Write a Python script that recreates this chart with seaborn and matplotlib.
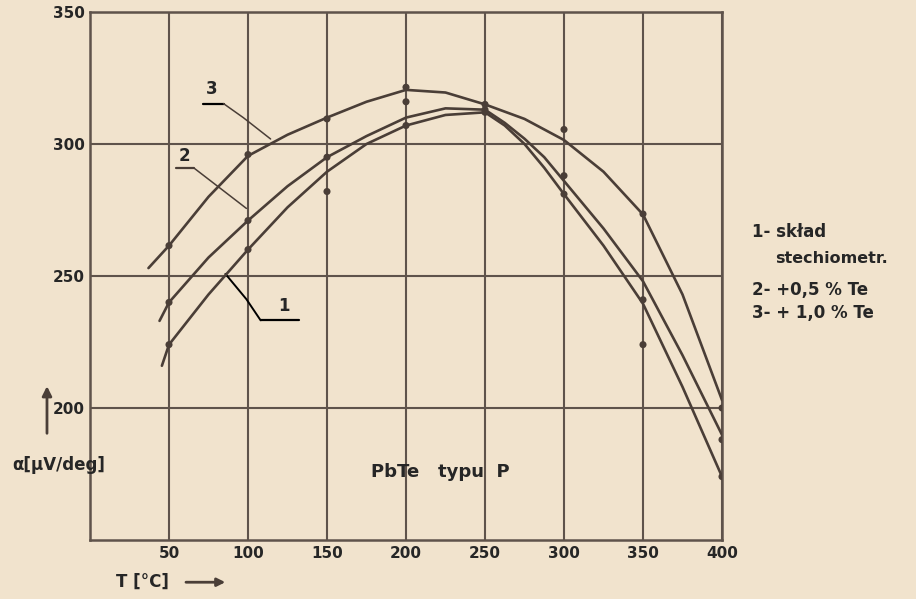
import matplotlib
matplotlib.use("Agg")
import matplotlib.pyplot as plt
import seaborn as sns
import pandas as pd

# ---- data ----
T1 = [45.5, 50, 75, 100, 125, 150, 175, 200, 225, 250, 262.5, 275, 287.5, 300, 325, 350, 375, 400]
a1 = [216, 224, 243, 260, 276, 289.5, 300, 307, 311, 312, 307, 300, 291, 281, 261.5, 239.5, 208, 174]
T2 = [44, 50, 75, 100, 125, 150, 175, 200, 225, 250, 262.5, 275, 287.5, 300, 325, 350, 375, 404]
a2 = [233, 240, 257, 271, 284, 295, 303, 310, 313.5, 313, 308, 302, 295, 286, 268, 248, 220, 185]
T3 = [37, 50, 75, 100, 125, 150, 175, 200, 225, 250, 275, 300, 325, 350, 375, 400]
a3 = [253, 261.5, 280, 295.5, 303.5, 310, 316, 320.5, 319.5, 315, 309.5, 301.5, 289.5, 273.3, 243, 203]

mT = [50, 100, 150, 200, 250, 300, 350, 400]
m1 = [224, 260, 282, 307, 312, 281, 224, 174]
m2 = [240, 271, 295, 316, 313, 288, 241, 188]
m3 = [261.5, 296, 309.5, 321.5, 315, 305.5, 273.5, 200]

x_ticks = [50, 100, 150, 200, 250, 300, 350, 400]
y_ticks = [200, 250, 300, 350]
curve_labels = ["1", "2", "3"]
legend_lines = ["1- skład", "stechiometr.", "2- +0,5 % Te", "3- + 1,0 % Te"]
title_text = "PbTe   typu  P"
y_label = "α[μV/deg]"
x_label = "T [°C]"

# ---- tables ----
curves = pd.concat([
    pd.DataFrame({"T": T1, "a": a1, "curve": "1"}),
    pd.DataFrame({"T": T2, "a": a2, "curve": "2"}),
    pd.DataFrame({"T": T3, "a": a3, "curve": "3"}),
])
points = pd.concat([
    pd.DataFrame({"T": mT, "a": m1, "curve": "1"}),
    pd.DataFrame({"T": mT, "a": m2, "curve": "2"}),
    pd.DataFrame({"T": mT, "a": m3, "curve": "3"}),
])

BG = "#f1e3cd"
GRID = "#5f534b"
INK = "#4a3e37"

sns.set_theme(style="white")
plt.rcParams["font.family"] = ["DejaVu Sans"]

fig = plt.figure(figsize=(9.16, 5.99), dpi=100, facecolor=BG)
ax = fig.add_axes([90 / 916, 1 - 540 / 599, (722 - 90) / 916, (540 - 12) / 599])
ax.set_facecolor(BG)

pal = {"1": INK, "2": INK, "3": INK}
sns.lineplot(data=curves, x="T", y="a", hue="curve", palette=pal, sort=False,
             estimator=None, linewidth=1.9, legend=False, ax=ax, zorder=3)
sns.scatterplot(data=points, x="T", y="a", hue="curve", palette=pal, s=26,
                edgecolor="none", legend=False, ax=ax, zorder=4)

ax.set_xlim(0, 400)
ax.set_ylim(150, 350)
ax.set_xticks(x_ticks)
ax.set_yticks(y_ticks)
ax.set_xticklabels([str(v) for v in x_ticks], fontsize=11, fontweight="bold")
ax.set_yticklabels([str(v) for v in y_ticks], fontsize=11, fontweight="bold")
ax.tick_params(length=0, pad=4)
ax.grid(True, color=GRID, linewidth=1.5)
for s in ax.spines.values():
    s.set_color(GRID)
    s.set_linewidth(1.8)
ax.set_xlabel("")
ax.set_ylabel("")

# curve labels with leader lines
ax.text(76.8, 321, curve_labels[2], fontsize=12, fontweight="bold", ha="center", va="center")
ax.plot([71.5, 84.5], [315.3, 315.3], color="black", lw=1.6)
ax.plot([84.5, 97, 114.3], [315.3, 310, 301.9], color=INK, lw=1.1)

ax.text(59.6, 295.5, curve_labels[1], fontsize=12, fontweight="bold", ha="center", va="center")
ax.plot([54.5, 66], [290.8, 290.8], color=INK, lw=1.6)
ax.plot([66, 99], [290.8, 275.6], color=INK, lw=1.1)

ax.text(122.6, 238.5, curve_labels[0], fontsize=12, fontweight="bold", ha="center", va="center")
ax.plot([108, 132], [233.2, 233.2], color="black", lw=1.6)
ax.plot([85.7, 99, 108], [250.8, 241.2, 233.2], color="black", lw=1.4)

ax.text(222, 175.6, title_text, fontsize=13, fontweight="bold", ha="center", va="center")

# axis labels with arrows
fig.text(0.064, 0.224, y_label, fontsize=12, fontweight="bold", ha="center", va="center")
fig.add_artist(matplotlib.patches.FancyArrowPatch(
    (0.0513, 0.272), (0.0513, 0.36), transform=fig.transFigure,
    arrowstyle="-|>", mutation_scale=14, color=INK, lw=2))
fig.text(0.155, 0.028, x_label, fontsize=12, fontweight="bold", ha="center", va="center")
fig.add_artist(matplotlib.patches.FancyArrowPatch(
    (0.200, 0.028), (0.249, 0.028), transform=fig.transFigure,
    arrowstyle="-|>", mutation_scale=12, color=INK, lw=2))

# legend text
fig.text(0.821, 0.613, legend_lines[0], fontsize=12, fontweight="bold", ha="left", va="center")
fig.text(0.846, 0.569, legend_lines[1], fontsize=11.5, fontweight="bold", ha="left", va="center")
fig.text(0.821, 0.516, legend_lines[2], fontsize=12, fontweight="bold", ha="left", va="center")
fig.text(0.821, 0.477, legend_lines[3], fontsize=12, fontweight="bold", ha="left", va="center")

fig.savefig("out.png", dpi=100, facecolor=BG)
